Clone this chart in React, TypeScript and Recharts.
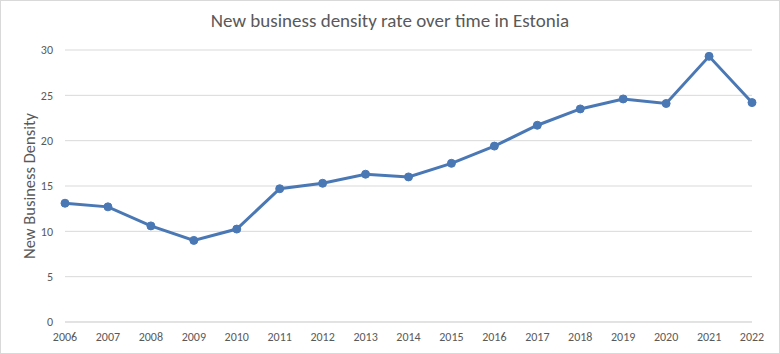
import React from 'react';
import { LineChart, Line, XAxis, YAxis, CartesianGrid, Label } from 'recharts';

const years = ['2006','2007','2008','2009','2010','2011','2012','2013','2014','2015','2016','2017','2018','2019','2020','2021','2022'];
const density = [13.1, 12.7, 10.6, 9.0, 10.25, 14.7, 15.3, 16.3, 16.0, 17.5, 19.4, 21.7, 23.5, 24.6, 24.1, 29.3, 24.2];
const yTicks = [0, 5, 10, 15, 20, 25, 30];
const title = 'New business density rate over time in Estonia';
const yLabel = 'New Business Density';

const data = years.map((y, i) => ({ year: y, value: density[i] }));

const FONT = 'Carlito, Lato, "Liberation Sans", sans-serif';
const TXT = '#595959';
const BLUE = '#4a78b5';

export default function App() {
  return (
    <div style={{ position: 'absolute', left: 0, top: 0, width: 780, height: 354, background: '#fff', boxSizing: 'border-box', border: '1px solid #d9d9d9', fontFamily: FONT }}>
      <div style={{ position: 'absolute', left: 0, top: 8, width: 778, textAlign: 'center', fontSize: 19, color: TXT, fontFamily: FONT }}>{title}</div>
      <div style={{ position: 'absolute', left: -1, top: -1 }}>
        <LineChart width={780} height={354} data={data} margin={{ top: 50, right: 28, bottom: 12, left: 25 }}>
          <CartesianGrid vertical={false} stroke="#d9d9d9" />
          <XAxis dataKey="year" tickLine={false} tickSize={0} tickMargin={10} axisLine={{ stroke: '#d9d9d9' }} tick={{ fill: TXT, fontSize: 12, fontFamily: FONT }} interval={0} height={20} />
          <YAxis domain={[0, 30]} ticks={yTicks} width={40} tickLine={false} axisLine={false} tickSize={0} tickMargin={12} tick={{ fill: TXT, fontSize: 12, fontFamily: FONT }}>
            <Label content={(props: any) => {
              const vb = props.viewBox || { x: 25, y: 50, width: 40, height: 272 };
              const cx = 29;
              const cy = vb.y + vb.height / 2;
              return (
                <text x={cx} y={cy} transform={`rotate(-90, ${cx}, ${cy})`} textAnchor="middle" dominantBaseline="central" fill={TXT} fontSize={16.5} fontFamily={FONT}>{yLabel}</text>
              );
            }} />
          </YAxis>
          <Line dataKey="value" stroke={BLUE} strokeWidth={3} dot={{ r: 4, fill: BLUE, stroke: BLUE, strokeWidth: 1 }} isAnimationActive={false} />
        </LineChart>
      </div>
    </div>
  );
}
